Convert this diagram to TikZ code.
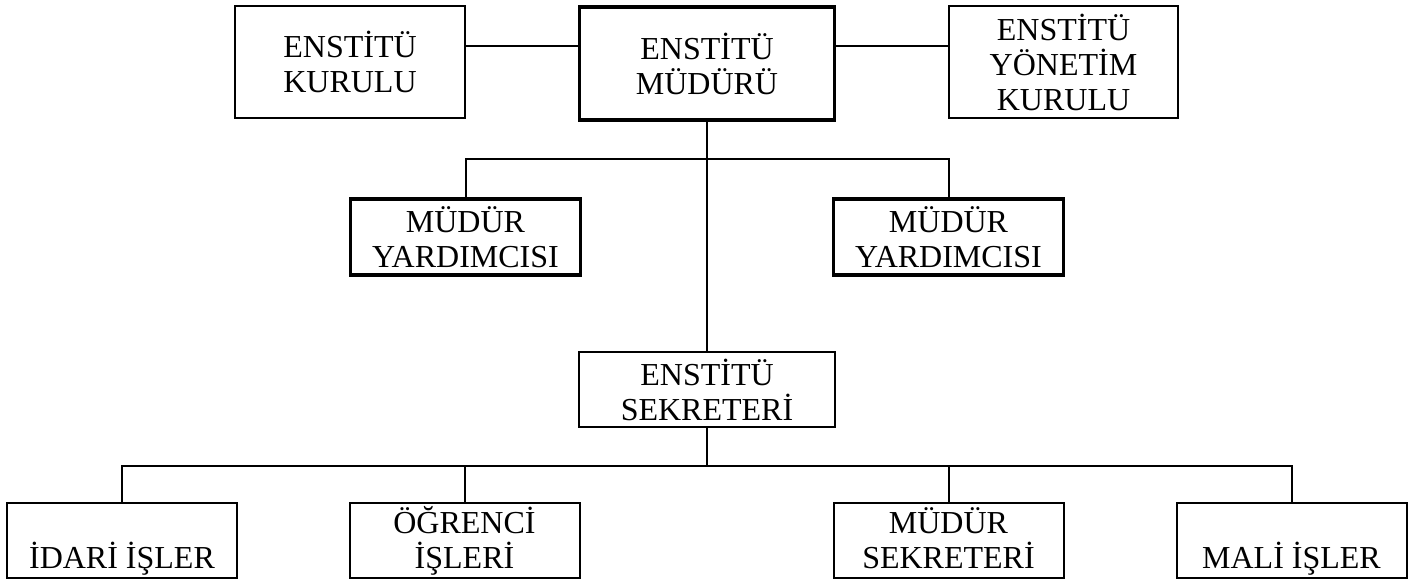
\documentclass[tikz,border=0pt]{standalone}
\usepackage{fontspec}
\setmainfont{Liberation Serif}
\usepackage{tikz}
\usetikzlibrary{shapes}

\begin{document}
\begin{tikzpicture}[x=0.5pt,y=-0.5pt,line width=1pt,
	box/.style={rectangle,draw,line width=1pt,inner sep=0pt,align=center,font=\fontsize{16}{17.5}\selectfont},
	thickbox/.style={box,line width=1.75pt},
	wide/.style={minimum width=115pt,minimum height=37.5pt}]
\useasboundingbox (0,0) rectangle (1419,579);
\node [box,minimum width=115pt,minimum height=56pt] (k) at (350,62) {ENSTİTÜ\\KURULU};
\node [thickbox,minimum width=127.5pt,minimum height=56.5pt] (m) at (707,63.5) {ENSTİTÜ\\MÜDÜRÜ};
\node [box,minimum width=114.5pt,minimum height=56pt] (y) at (1063.5,62) {ENSTİTÜ\\YÖNETİM\\KURULU};
\node [thickbox,wide,minimum height=38pt] (a) at (465.5,237) {MÜDÜR\\YARDIMCISI};
\node [thickbox,wide,minimum height=38pt] (b) at (948.5,237) {MÜDÜR\\YARDIMCISI};
\node [box,minimum width=128pt,minimum height=37.5pt] (s) at (707,389.5) {ENSTİTÜ\\SEKRETERİ};
\node [box,wide] (i) at (122,540.5) {\vphantom{Ğ}\\İDARİ İŞLER};
\node [box,wide] (o) at (464.5,540.5) {\vphantom{Ğ}ÖĞRENCİ\\İŞLERİ};
\node [box,wide] (ms) at (948.5,540.5) {\vphantom{Ğ}MÜDÜR\\SEKRETERİ\vphantom{Ş}};
\node [box,wide] (l) at (1291.5,540.5) {\vphantom{Ğ}\\MALİ İŞLER};
\coordinate (top) at (0,46);
\coordinate (mid) at (0,159);
\coordinate (low) at (0,466);
\draw (k.east |- top) -- (m.west |- top);
\draw (m.east |- top) -- (y.west |- top);
\draw (m.south) -- (s.north);
\draw (a.north) -- (a.north |- mid) -- (b.north |- mid) -- (b.north);
\draw (s.south) -- (s.south |- low);
\draw (i.north) -- (i.north |- low) -- (l.north |- low) -- (l.north);
\draw (o.north) -- (o.north |- low);
\draw (ms.north) -- (ms.north |- low);
\end{tikzpicture}
\end{document}
